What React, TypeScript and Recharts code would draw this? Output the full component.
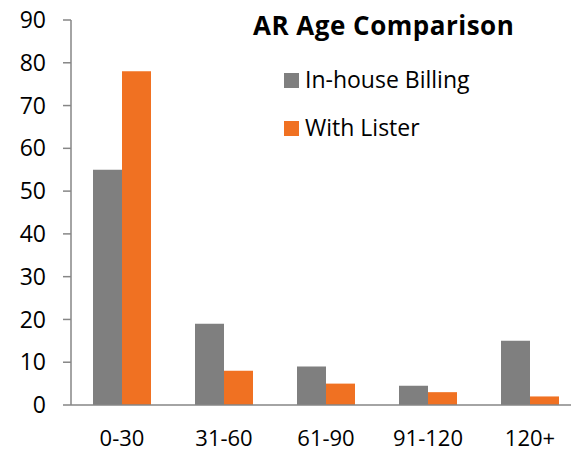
import { Bar, BarChart, Legend, XAxis, YAxis } from "recharts";

const categories = ["0-30", "31-60", "61-90", "91-120", "120+"];
const inHouseBilling = [55, 19, 9, 4.5, 15];
const withLister = [78, 8, 5, 3, 2];
const yTicks = [0, 10, 20, 30, 40, 50, 60, 70, 80, 90];
const edgeTicks = [0, 1, 2, 3, 4, 5];
const chartTitle = "AR Age Comparison";

const data = categories.map((name, i) => ({
  name,
  inHouse: inHouseBilling[i],
  lister: withLister[i],
}));

const FONT = "'Open Sans', sans-serif";
const AXIS = "#868686";

function LegendBox(props: any) {
  const items = props.payload || [];
  return (
    <div style={{ position: "relative", fontFamily: FONT, color: "#000", lineHeight: 1 }}>
      <div
        style={{
          position: "absolute",
          left: 253,
          top: 12,
          fontWeight: 700,
          fontSize: 26,
          letterSpacing: 0.5,
          whiteSpace: "nowrap",
        }}
      >
        {chartTitle}
      </div>
      {items.map((it: any, i: number) => (
        <div key={it.value}>
          <span
            style={{
              position: "absolute",
              left: 284,
              top: 73 + i * 48,
              width: 15,
              height: 15,
              background: it.color,
            }}
          />
          <span
            style={{
              position: "absolute",
              left: 305,
              top: 67.5 + i * 48,
              fontSize: 23,
              whiteSpace: "nowrap",
            }}
          >
            {it.value}
          </span>
        </div>
      ))}
    </div>
  );
}

export default function App() {
  return (
    <div
      style={{
        position: "absolute",
        left: 0,
        top: 0,
        width: 571,
        height: 452,
        overflow: "hidden",
        background: "#fff",
      }}
    >
      <BarChart
        width={600}
        height={452}
        data={data}
        margin={{ top: 20, right: 19, left: 0, bottom: 0 }}
        barCategoryGap={22}
        barGap={0}
      >
        <XAxis
          xAxisId="edges"
          type="number"
          domain={[0, 5]}
          ticks={edgeTicks}
          allowDataOverflow
          height={0}
          axisLine={false}
          tickSize={8}
          tickLine={{ stroke: AXIS, strokeWidth: 1.5 }}
          tickFormatter={() => ""}
        />
        <XAxis
          dataKey="name"
          height={47}
          axisLine={{ stroke: AXIS, strokeWidth: 1.5 }}
          tickLine={false}
          tickSize={0}
          tickMargin={25}
          tick={{ fill: "#000", fontSize: 22, fontFamily: FONT }}
        />
        <YAxis
          width={71}
          domain={[0, 90]}
          ticks={yTicks}
          interval={0}
          axisLine={{ stroke: AXIS, strokeWidth: 1.5 }}
          tickSize={8}
          tickLine={{ stroke: AXIS, strokeWidth: 1.5 }}
          tickMargin={17}
          tick={{ fill: "#000", fontSize: 23, fontFamily: FONT }}
        />
        <Legend
          layout="vertical"
          align="center"
          verticalAlign="middle"
          content={LegendBox}
          wrapperStyle={{ left: 0, top: 0, width: 571, height: 452 }}
        />
        <Bar dataKey="inHouse" name="In-house Billing" fill="#7F7F7F" isAnimationActive={false} />
        <Bar dataKey="lister" name="With Lister" fill="#F07122" isAnimationActive={false} />
      </BarChart>
    </div>
  );
}
